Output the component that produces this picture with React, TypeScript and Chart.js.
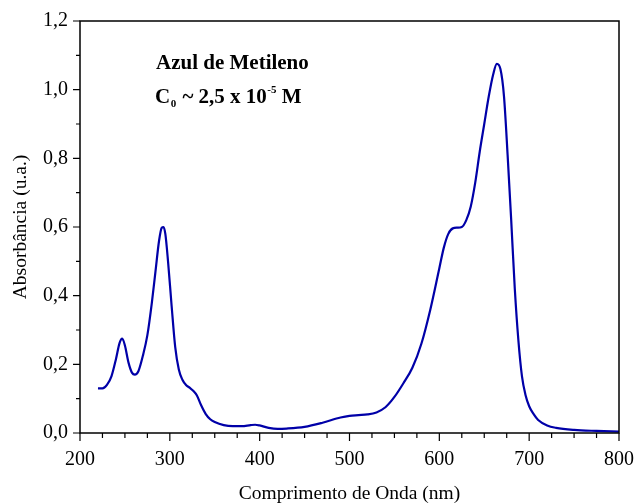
import React, { useEffect, useRef } from 'react';
import { Chart, registerables } from 'chart.js';

Chart.register(...registerables);

const wavelengths = [220, 225, 230, 235, 240, 244, 247, 250, 254, 258, 261, 265, 270, 275, 280, 284, 288, 291, 293, 295, 298, 302, 306, 310, 314, 318, 322, 326, 330, 335, 340, 345, 350, 360, 370, 380, 390, 395, 400, 410, 420, 430, 450, 470, 490, 500, 510, 520, 530, 540, 550, 560, 570, 580, 590, 600, 605, 610, 615, 620, 625, 630, 635, 640, 645, 650, 655, 660, 664, 668, 672, 676, 680, 684, 688, 692, 696, 700, 705, 710, 720, 730, 750, 775, 800];
const absorbance = [0.130, 0.130, 0.140, 0.165, 0.215, 0.262, 0.275, 0.255, 0.205, 0.175, 0.170, 0.180, 0.225, 0.285, 0.380, 0.470, 0.560, 0.598, 0.600, 0.580, 0.500, 0.370, 0.250, 0.185, 0.155, 0.140, 0.132, 0.123, 0.110, 0.080, 0.055, 0.040, 0.032, 0.023, 0.020, 0.020, 0.023, 0.024, 0.022, 0.015, 0.012, 0.013, 0.018, 0.030, 0.045, 0.050, 0.052, 0.054, 0.060, 0.075, 0.105, 0.145, 0.190, 0.260, 0.360, 0.480, 0.540, 0.580, 0.596, 0.598, 0.600, 0.620, 0.660, 0.730, 0.820, 0.900, 0.980, 1.045, 1.075, 1.060, 0.980, 0.810, 0.620, 0.420, 0.270, 0.165, 0.110, 0.078, 0.055, 0.038, 0.022, 0.015, 0.009, 0.006, 0.004];

const xTickLabels = [200, 300, 400, 500, 600, 700, 800];
const yTickLabels = [0, 0.2, 0.4, 0.6, 0.8, 1.0, 1.2];
const xMinorTicks = [225, 250, 275, 325, 350, 375, 425, 450, 475, 525, 550, 575, 625, 650, 675, 725, 750, 775];
const yMinorTicks = [0.1, 0.3, 0.5, 0.7, 0.9, 1.1];

const xTitle = 'Comprimento de Onda (nm)';
const yTitle = 'Absorbância (u.a.)';
const noteLine1 = 'Azul de Metileno';

const SERIF = '"Liberation Serif", "Times New Roman", serif';

const framePlugin = {
  id: 'frameTicks',
  afterDraw(chart: any) {
    const { ctx, chartArea, scales } = chart;
    const xs = scales.x;
    const ys = scales.y;
    ctx.save();
    ctx.strokeStyle = '#000';
    ctx.lineWidth = 1.5;
    ctx.strokeRect(chartArea.left, chartArea.top, chartArea.right - chartArea.left, chartArea.bottom - chartArea.top);
    ctx.lineWidth = 1.2;
    ctx.beginPath();
    xTickLabels.forEach((v) => {
      const p = xs.getPixelForValue(v);
      ctx.moveTo(p, chartArea.bottom);
      ctx.lineTo(p, chartArea.bottom + 8);
    });
    xMinorTicks.forEach((v) => {
      const p = xs.getPixelForValue(v);
      ctx.moveTo(p, chartArea.bottom);
      ctx.lineTo(p, chartArea.bottom + 5);
    });
    yTickLabels.forEach((v) => {
      const p = ys.getPixelForValue(v);
      ctx.moveTo(chartArea.left, p);
      ctx.lineTo(chartArea.left - 7, p);
    });
    yMinorTicks.forEach((v) => {
      const p = ys.getPixelForValue(v);
      ctx.moveTo(chartArea.left, p);
      ctx.lineTo(chartArea.left - 4, p);
    });
    ctx.stroke();

    // annotation
    ctx.fillStyle = '#000';
    ctx.textBaseline = 'alphabetic';
    ctx.textAlign = 'left';
    const big = `bold 21px ${SERIF}`;
    const small = `bold 11px ${SERIF}`;
    ctx.font = big;
    ctx.fillText(noteLine1, 156, 69);
    let x = 155;
    const y2 = 103;
    ctx.font = big;
    ctx.fillText('C', x, y2);
    x += ctx.measureText('C').width + 0.5;
    ctx.font = small;
    ctx.fillText('0', x, y2 + 3.5);
    x += ctx.measureText('0').width + 1;
    ctx.font = big;
    const mid = ' ~ 2,5 x 10';
    ctx.fillText(mid, x, y2);
    x += ctx.measureText(mid).width + 0.5;
    ctx.font = small;
    ctx.fillText('-5', x, y2 - 10);
    x += ctx.measureText('-5').width;
    ctx.font = big;
    ctx.fillText(' M', x, y2);
    ctx.restore();
  },
};

export default function App() {
  const ref = useRef<HTMLCanvasElement>(null);
  useEffect(() => {
    document.body.style.margin = '0';
    const canvas = ref.current;
    if (!canvas) return;
    const chart = new Chart(canvas, {
      type: 'line',
      data: {
        datasets: [
          {
            data: wavelengths.map((w, i) => ({ x: w, y: absorbance[i] })),
            borderColor: '#0000a8',
            borderWidth: 2.2,
            pointRadius: 0,
            fill: false,
            cubicInterpolationMode: 'monotone',
          },
        ],
      },
      options: {
        animation: false,
        responsive: false,
        maintainAspectRatio: false,
        layout: { padding: { top: 21, right: 15, left: 0, bottom: 0 } },
        plugins: { legend: { display: false }, tooltip: { enabled: false } },
        scales: {
          x: {
            type: 'linear',
            min: 200,
            max: 800,
            afterFit: (s: any) => {
              s.height = 71;
              s.paddingLeft = 0;
              s.paddingRight = 0;
            },
            afterBuildTicks: (s: any) => {
              s.ticks = xTickLabels.map((v) => ({ value: v }));
            },
            grid: { display: false, drawTicks: false },
            border: { display: false },
            ticks: {
              padding: 15,
              color: '#000',
              maxRotation: 0,
              font: { family: SERIF, size: 20 },
              callback: (v: any) => String(v),
            },
            title: {
              display: true,
              text: xTitle,
              color: '#000',
              font: { family: SERIF, size: 19.5, lineHeight: 1 },
              padding: { top: 0, bottom: 0 },
            },
          },
          y: {
            type: 'linear',
            min: 0,
            max: 1.2,
            afterFit: (s: any) => {
              s.width = 80;
              s.paddingTop = 0;
              s.paddingBottom = 0;
            },
            afterBuildTicks: (s: any) => {
              s.ticks = yTickLabels.map((v) => ({ value: v }));
            },
            grid: { display: false, drawTicks: false },
            border: { display: false },
            ticks: {
              padding: 12,
              color: '#000',
              font: { family: SERIF, size: 20 },
              callback: (v: any) => Number(v).toFixed(1).replace('.', ','),
            },
            title: {
              display: true,
              text: yTitle,
              color: '#000',
              font: { family: SERIF, size: 19.5, lineHeight: 1 },
              padding: { top: 11, bottom: 0 },
            },
          },
        },
      },
      plugins: [framePlugin],
    } as any);
    return () => chart.destroy();
  }, []);
  return (
    <div style={{ position: 'absolute', left: 0, top: 0, width: 634, height: 504 }}>
      <canvas ref={ref} width={634} height={504} style={{ display: 'block' }} />
    </div>
  );
}
